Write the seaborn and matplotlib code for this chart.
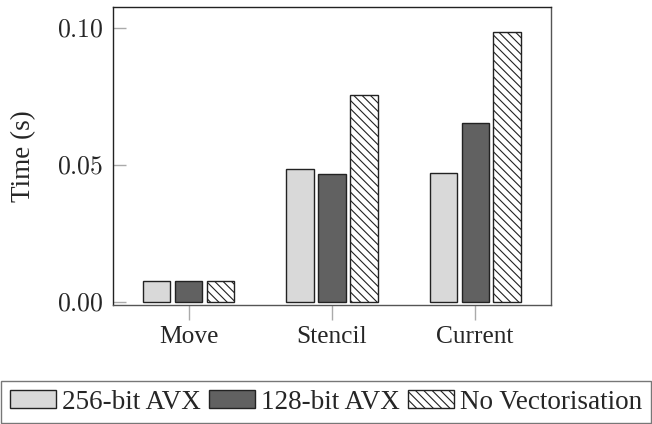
import matplotlib
matplotlib.use("Agg")
import matplotlib.pyplot as plt
import seaborn as sns
import pandas as pd
from matplotlib.ticker import FixedLocator, FuncFormatter

categories = ["Move", "Stencil", "Current"]
series_names = ["256-bit AVX", "128-bit AVX", "No Vectorisation"]
avx256 = [0.0077, 0.0485, 0.0470]
avx128 = [0.0077, 0.0467, 0.0654]
novec = [0.0077, 0.0755, 0.0984]
yticks = [0.00, 0.05, 0.10]

rows = []
for name, vals in zip(series_names, [avx256, avx128, novec]):
    for c, v in zip(categories, vals):
        rows.append({"case": c, "mode": name, "time": v})
df = pd.DataFrame(rows)

sns.set_style("white")
plt.rcParams["font.family"] = ["Liberation Serif", "DejaVu Serif"]
plt.rcParams["mathtext.fontset"] = "cm"
plt.rcParams["hatch.linewidth"] = 0.8

fig = plt.figure(figsize=(6.52, 4.24), dpi=100)
ax = fig.add_axes([0.1733, 0.2807, 0.6717, 0.7028])

palette = ["#d9d9d9", "#616161", "#ffffff"]
sns.barplot(data=df, x="case", y="time", hue="mode", order=categories,
            hue_order=series_names, palette=palette, width=0.67, gap=0.15,
            edgecolor="#222222", linewidth=1.0, saturation=1, legend=False, ax=ax)

for p in ax.containers[2].patches:
    p.set_hatch("\\\\\\\\")
    p.set_facecolor("white")

ax.set_xlim(-0.53, 2.53)
ax.set_ylim(-0.0011, 0.1077)
ax.yaxis.set_major_locator(FixedLocator(yticks))
ax.yaxis.set_major_formatter(FuncFormatter(lambda v, p: r"$%.2f$" % v))
ax.tick_params(axis="y", direction="in", length=9, width=1, color="#aaaaaa",
               labelsize=18.5, pad=7, left=True)
ax.tick_params(axis="x", direction="out", length=11, width=1, color="#aaaaaa",
               labelsize=18.3, pad=4, bottom=True)
ax.set_xlabel("")
ax.set_ylabel("Time (s)", fontsize=19.5, labelpad=15)
for side, sp in ax.spines.items():
    sp.set_visible(True)
    sp.set_linewidth(1.0)
    sp.set_color("#222222" if side in ("left", "top") else "#555555")

leg = fig.legend(ax.containers, series_names, loc="lower center", ncol=3,
                 bbox_to_anchor=(0.5, 0.0), fontsize=19.5, frameon=True,
                 fancybox=False, edgecolor="#555555", handlelength=1.7,
                 handleheight=0.6, handletextpad=0.23, columnspacing=0.3,
                 borderpad=0.3, borderaxespad=0.05)
leg.get_frame().set_linewidth(1.0)

fig.savefig("out.png", dpi=100)
